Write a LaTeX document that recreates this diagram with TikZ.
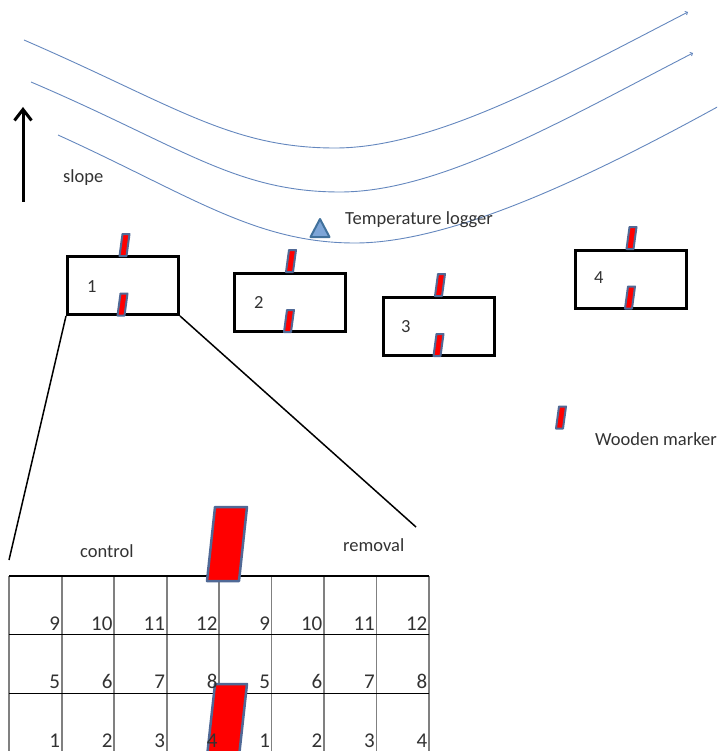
\documentclass[tikz,border=0pt]{standalone}
\usepackage{fontspec}
\setmainfont{Carlito}
\usetikzlibrary{arrows.meta}
\definecolor{contour}{RGB}{100,135,190}
\definecolor{markborder}{RGB}{80,105,150}
\definecolor{markred}{RGB}{255,0,0}
\definecolor{trifill}{RGB}{125,165,215}
\definecolor{triborder}{RGB}{65,113,156}
\definecolor{gridgray}{RGB}{128,128,128}
\definecolor{txt}{RGB}{50,50,50}
\begin{document}
\begin{tikzpicture}[x=1pt,y=-1pt,
  plotbox/.style={draw,line width=3pt,minimum width=111pt,minimum height=58pt,inner sep=0pt},
  lbl/.style={font=\fontsize{18.5}{22}\selectfont,text=txt,inner sep=0pt,anchor=base west},
  num/.style={font=\fontsize{21}{25}\selectfont,text=txt,inner sep=0pt,anchor=base east},
  contourline/.style={draw=contour,line width=0.9pt},
  markerbox/.style={draw=markborder,fill=markred,line width=2pt,line join=round},
  woodmark/.pic={\path[markerbox] (-2,-11) -- (5,-11) -- (2,11) -- (-5,11) -- cycle;}
]
\useasboundingbox (0,0) rectangle (717,751);
\clip (0,0) rectangle (717,751);

% contour lines
\draw[contourline,-{Straight Barb[length=2pt,width=4pt]}] (24,40) .. controls (174,105) and (230,148) .. (335,148) .. controls (435,148) and (560,78) .. (688,12);
\draw[contourline,-{Straight Barb[length=2pt,width=4pt]}] (31,82) .. controls (181,146) and (235,192) .. (340,192) .. controls (440,192) and (563,120) .. (693,53);
\draw[contourline] (58,135) .. controls (190,195) and (255,243) .. (355,243) .. controls (455,243) and (600,172) .. (730,100);

% slope arrow
\coordinate (sbot) at (23,202);
\coordinate (stop) at (23,107);
\draw[line width=3pt,-{Straight Barb[length=11pt,width=17pt]}] (sbot) -- (stop);
\node[lbl] (slope) at (63,183) {slope};

% temperature logger
\path[draw=triborder,fill=trifill,line width=2pt,line join=round] (320,219) -- (329.5,237) -- (310.5,237) -- cycle;
\node[lbl] (tlog) at (345,225) {Temperature logger};

% plots
\node[plotbox] (r1) at (123,285.5) {};
\node[plotbox] (r2) at (289.5,302.5) {};
\node[plotbox] (r3) at (438.5,326) {};
\node[plotbox] (r4) at (630.5,279) {};
\node[lbl] (l1) at (87,292) {1};
\node[lbl] (l2) at (254,308) {2};
\node[lbl] (l3) at (401,332) {3};
\node[lbl] (l4) at (594,283) {4};

% markers
\pic at (124.5,245) {woodmark};
\pic at (122.5,304.5) {woodmark};
\pic at (291,261) {woodmark};
\pic at (289,321) {woodmark};
\pic at (440,285) {woodmark};
\pic at (438.5,345) {woodmark};
\pic at (631.5,238) {woodmark};
\pic at (630,297.5) {woodmark};
\pic at (561,417.5) {woodmark};
\node[lbl] (wm) at (595,445) {Wooden marker};

% zoom lines
\coordinate (zl) at (9,560);
\coordinate (zr) at (416,527);
\draw[line width=1.5pt] (r1.south west) -- (zl);
\draw[line width=1.5pt] (r1.south east) -- (zr);

\node[lbl] (ctrl) at (80,557) {control};
\node[lbl] (rem) at (343,551) {removal};

% grid
\foreach \i in {0,...,8}
  \draw[gridgray,line width=1.7pt] ({9.3+52.46*\i},576) -- ({9.3+52.46*\i},770);
\foreach \yy in {576,634.7,693.4,752}
  \draw[line width=1.2pt] (9.3,\yy) -- (429,\yy);

% big markers
\path[markerbox,line width=2.5pt] (215,507) -- (247,507) -- (239,581) -- (207,581) -- cycle;
\path[markerbox,line width=2.5pt] (215,684) -- (247,684) -- (237.5,770) -- (205.5,770) -- cycle;

% numbers
\foreach \lab [count=\c from 0] in {9,10,11,12,9,10,11,12}
  \node[num] (a\c) at ({9.3+52.46*(\c+1)-1.5},630) {\lab};
\foreach \lab [count=\c from 0] in {5,6,7,8,5,6,7,8}
  \node[num] (b\c) at ({9.3+52.46*(\c+1)-1.5},688.5) {\lab};
\foreach \lab [count=\c from 0] in {1,2,3,4,1,2,3,4}
  \node[num] (d\c) at ({9.3+52.46*(\c+1)-1.5},747) {\lab};
\end{tikzpicture}
\end{document}
